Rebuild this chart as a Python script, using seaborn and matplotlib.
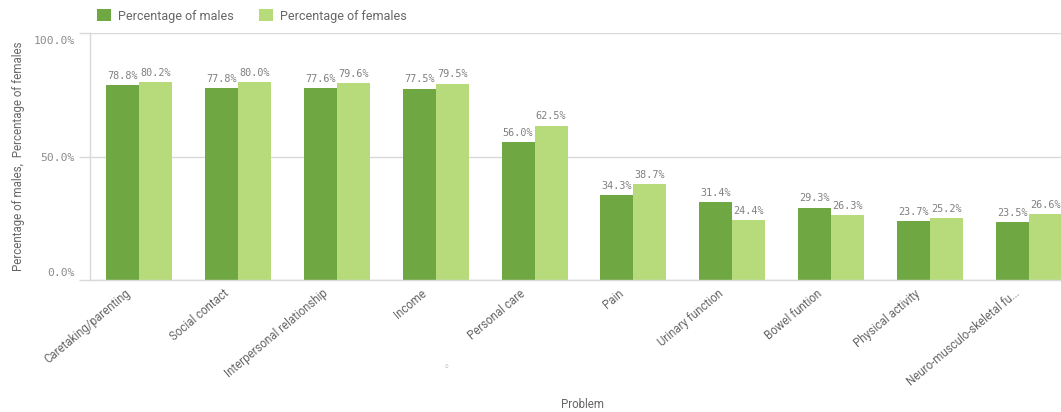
import matplotlib
matplotlib.use("Agg")
import matplotlib.pyplot as plt
from matplotlib.patches import Patch
from matplotlib.transforms import ScaledTranslation
import seaborn as sns
import pandas as pd

problems = [
    "Caretaking/parenting", "Social contact", "Interpersonal relationship",
    "Income", "Personal care", "Pain", "Urinary function", "Bowel funtion",
    "Physical activity", "Neuro-musculo-skeletal fu...",
]
males = [78.8, 77.8, 77.6, 77.5, 56.0, 34.3, 31.4, 29.3, 23.7, 23.5]
females = [80.2, 80.0, 79.6, 79.5, 62.5, 38.7, 24.4, 26.3, 25.2, 26.6]
series = ["Percentage of males", "Percentage of females"]
colors = ["#6fa842", "#b7da7b"]
yticks = [0, 50, 100]

df = pd.DataFrame({
    "Problem": problems * 2,
    "Series": [series[0]] * len(problems) + [series[1]] * len(problems),
    "Value": males + females,
})

sns.set_theme(style="white")
plt.rcParams["font.family"] = ["Roboto", "DejaVu Sans"]

W, H = 1061, 412
fig = plt.figure(figsize=(W / 100, H / 100), dpi=100)
ax = fig.add_axes([90 / W, 1 - 280 / H, 1 - 90 / W, (280 - 33) / H])

sns.barplot(data=df, x="Problem", y="Value", hue="Series", order=problems,
            hue_order=series, palette=colors, width=0.67, saturation=1,
            linewidth=0, ax=ax, legend=False)

grey = "#666666"
light = "#d9d9d9"

# value labels above each bar
for cont in ax.containers:
    ax.bar_label(cont, labels=[f"{v:.1f}%" for v in cont.datavalues],
                 padding=3, fontsize=7.3, color="#808080",
                 family="DejaVu Sans Mono")

ax.set_ylim(0, 100)
ax.set_xlim(-0.5, 9.5 - 17 / 98.8)
ax.yaxis.grid(True, color=light, linewidth=1)
ax.set_axisbelow(True)
ax.tick_params(axis="y", length=8, color=light, width=1, pad=3, left=True)
ax.tick_params(axis="x", length=0, pad=5)
ax.set_yticks(yticks)
ax.set_yticklabels([f"{v:.1f}%" for v in yticks], family="DejaVu Sans Mono",
                   fontsize=8.2, color="#8c8c8c")
# keep the end labels inside the plotting band
ylbls = ax.get_yticklabels()
ylbls[0].set_transform(ylbls[0].get_transform()
                       + ScaledTranslation(0, 8 / 100, fig.dpi_scale_trans))
ylbls[-1].set_transform(ylbls[-1].get_transform()
                        + ScaledTranslation(0, -7 / 100, fig.dpi_scale_trans))
ax.set_xticks(range(len(problems)))
ax.set_xticklabels(problems, rotation=40, ha="right", rotation_mode="anchor",
                   fontsize=8.3, color=grey)
shift = ScaledTranslation(-15 / 100, 0, fig.dpi_scale_trans)
for lbl in ax.get_xticklabels():
    lbl.set_transform(lbl.get_transform() + shift)
for side in ["top", "right"]:
    ax.spines[side].set_visible(False)
for side in ["left", "bottom"]:
    ax.spines[side].set_color(light)
    ax.spines[side].set_linewidth(1)

ax.set_xlabel("")
ax.set_ylabel("Percentage of males,  Percentage of females", fontsize=8.3,
              color=grey, labelpad=6)
fig.text(583 / W, 1 - 404 / H, "Problem", ha="center", va="center",
         fontsize=8.3, color=grey)

handles = [Patch(facecolor=c, edgecolor="none") for c in colors]
fig.legend(handles, series, loc="center left",
           bbox_to_anchor=(97 / W, 1 - 16 / H), ncol=2, frameon=False,
           fontsize=9, labelcolor=grey, handlelength=1.1, handleheight=1.1,
           handletextpad=0.6, columnspacing=2.0, borderaxespad=0, borderpad=0)

fig.text(446 / W, 1 - 367 / H, "\u25e6", ha="center", va="center",
         fontsize=7, color="#9aa0b4", family="DejaVu Sans")

fig.savefig("out.png", dpi=100)
